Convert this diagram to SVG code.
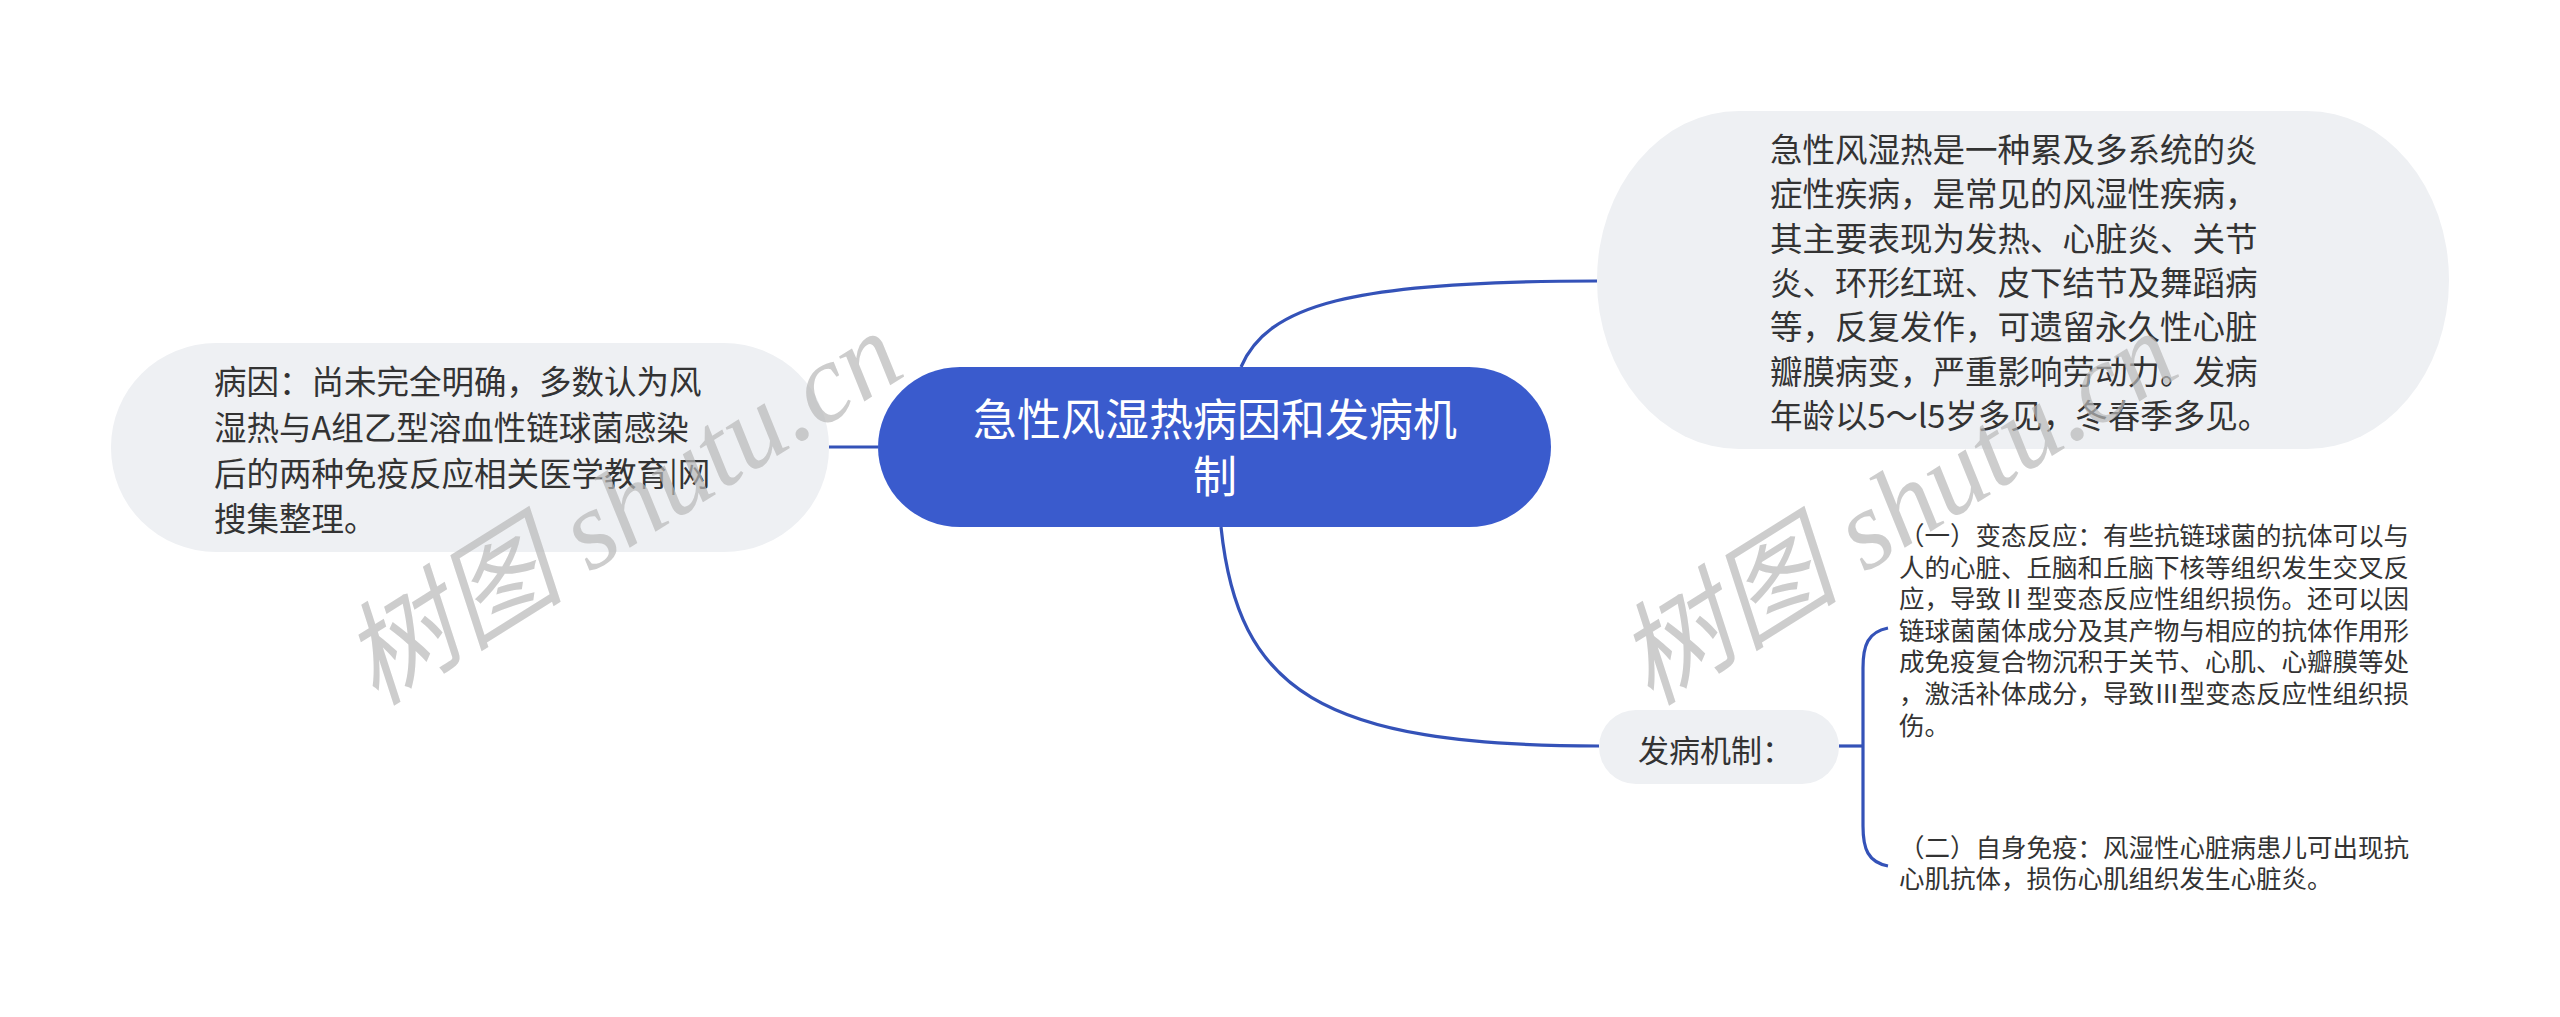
<svg xmlns="http://www.w3.org/2000/svg" width="2560" height="1017" viewBox="0 0 2560 1017">
<style>
.bg{fill:#ffffff}
.node{fill:#eef0f3}
.root{fill:#3a5bcd}
.t{font-family:"Noto Sans CJK SC","Noto Sans",sans-serif;fill:#333333}
.tw{font-family:"Noto Sans CJK SC","Noto Sans",sans-serif;fill:#ffffff}
.edge{fill:none;stroke:#3452b8;stroke-width:3.2}
.wm{font-family:"Liberation Serif","Noto Sans CJK SC",serif;font-style:italic;fill:#b8b8b8;fill-opacity:0.7}
</style>
<rect class="bg" x="0" y="0" width="2560" height="1017"/>
<g id="connectors">
<path class="edge" d="M829 447 L878 447"/>
<path class="edge" d="M1241 367 C1268 305 1350 281 1597 281"/>
<path class="edge" d="M1221 527 C1238 690 1320 746 1599 746"/>
<path class="edge" d="M1839 746 L1863 746"/>
<path class="edge" d="M1888 628 C1868 632 1863 645 1863 668 L1863 826 C1863 849 1868 862 1888 866"/>
</g>
<g id="root">
<rect class="root" x="878" y="367" width="673" height="160" rx="82" ry="80"/>
<text class="tw" font-size="44" text-anchor="middle" x="1215" y="436">急性风湿热病因和发病机</text>
<text class="tw" font-size="44" text-anchor="middle" x="1215" y="493">制</text>
</g>
<g id="node-cause">
<rect class="node" x="111" y="343" width="718" height="209" rx="105" ry="104"/>
<text class="t" font-size="32.5" x="214">
<tspan x="214" y="394">病因：尚未完全明确，多数认为风</tspan>
<tspan x="214" y="440">湿热与A组乙型溶血性链球菌感染</tspan>
<tspan x="214" y="486">后的两种免疫反应相关医学教育|网</tspan>
<tspan x="214" y="531">搜集整理。</tspan>
</text>
</g>
<g id="node-desc">
<rect class="node" x="1597" y="111" width="852" height="338" rx="142" ry="169"/>
<text class="t" font-size="32.5" x="1770">
<tspan x="1770" y="162">急性风湿热是一种累及多系统的炎</tspan>
<tspan x="1770" y="206">症性疾病，是常见的风湿性疾病，</tspan>
<tspan x="1770" y="251">其主要表现为发热、心脏炎、关节</tspan>
<tspan x="1770" y="295">炎、环形红斑、皮下结节及舞蹈病</tspan>
<tspan x="1770" y="339">等，反复发作，可遗留永久性心脏</tspan>
<tspan x="1770" y="384">瓣膜病变，严重影响劳动力。发病</tspan>
<tspan x="1770" y="428">年龄以5～l5岁多见，冬春季多见。</tspan>
</text>
</g>
<g id="node-mech">
<rect class="node" x="1599" y="710" width="240" height="74" rx="37" ry="37"/>
<text class="t" font-size="31" x="1638" y="762">发病机制：</text>
</g>
<g id="node-mech-1">
<text class="t" font-size="25.5" x="1899">
<tspan x="1899" y="545">（一）变态反应：有些抗链球菌的抗体可以与</tspan>
<tspan x="1899" y="577">人的心脏、丘脑和丘脑下核等组织发生交叉反</tspan>
<tspan x="1899" y="608">应，导致Ⅱ型变态反应性组织损伤。还可以因</tspan>
<tspan x="1899" y="640">链球菌菌体成分及其产物与相应的抗体作用形</tspan>
<tspan x="1899" y="671">成免疫复合物沉积于关节、心肌、心瓣膜等处</tspan>
<tspan x="1899" y="703">，激活补体成分，导致Ⅲ型变态反应性组织损</tspan>
<tspan x="1899" y="735">伤。</tspan>
</text>
</g>
<g id="node-mech-2">
<text class="t" font-size="25.5" x="1899">
<tspan x="1899" y="857">（二）自身免疫：风湿性心脏病患儿可出现抗</tspan>
<tspan x="1899" y="888">心肌抗体，损伤心肌组织发生心脏炎。</tspan>
</text>
</g>
<g id="watermarks">
<text class="wm" font-size="112" text-anchor="middle" transform="translate(622 508) rotate(-32)" y="38">树图 shutu.cn</text>
<text class="wm" font-size="112" text-anchor="middle" transform="translate(1897 508) rotate(-32)" y="38">树图 shutu.cn</text>
</g>
</svg>
